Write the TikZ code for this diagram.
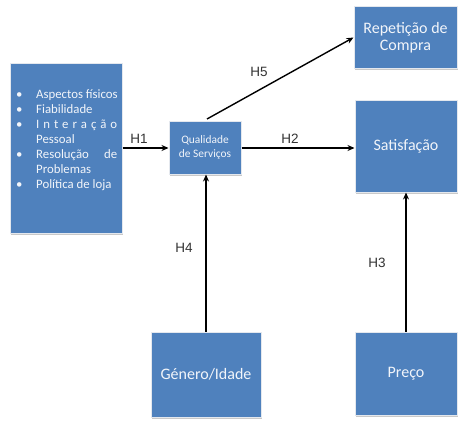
\documentclass[tikz,border=0pt]{standalone}
\usepackage{fontspec}
\setmainfont{Carlito}
\newfontfamily\labelfont{Liberation Sans}
\usetikzlibrary{arrows.meta,shadows}
\definecolor{boxblue}{HTML}{4F81BD}
\definecolor{boxedge}{HTML}{E4E8EE}
\definecolor{labelgray}{HTML}{333333}
\definecolor{boxtext}{HTML}{F2F5FA}
\begin{document}
\begin{tikzpicture}[x=1pt,y=-1pt,
  bluebox/.style={draw=boxedge, line width=1pt, fill=boxblue, text=boxtext,
    inner sep=0pt, align=center,
    drop shadow={shadow xshift=1.2pt, shadow yshift=-1.5pt, fill=black!35, opacity=0.6}},
  conn/.style={draw=black, line width=1.4pt, -{Stealth[length=7pt,width=6pt]}},
  hlabel/.style={font=\labelfont\fontsize{13.5}{15}\selectfont, text=labelgray, inner sep=0pt},
  item/.style={anchor=mid west, inner sep=0pt, text=boxtext, font=\fontsize{12.8}{14}\selectfont}
]
\useasboundingbox (0,0) rectangle (465,436);
\fill[white] (0,0) rectangle (465,436);

% boxes
\node[bluebox, minimum width=112pt, minimum height=170pt] (lb) at (66,148) {};
\node[bluebox, minimum width=72pt, minimum height=53pt, font=\fontsize{11.4}{14}\selectfont] (q) at (205,147.5) {Qualidade\\de Serviços};
\node[bluebox, minimum width=103pt, minimum height=61pt, font=\fontsize{16}{17}\selectfont] (rep) at (405.5,37.5) {Repetição de\\Compra};
\node[bluebox, minimum width=102pt, minimum height=92pt, font=\fontsize{16}{17}\selectfont] (sat) at (406,146) {Satisfação};
\node[bluebox, minimum width=110pt, minimum height=85pt, font=\fontsize{16}{17}\selectfont] (gen) at (206,374.5) {Género/Idade};
\node[bluebox, minimum width=102pt, minimum height=83pt, font=\fontsize{16}{17}\selectfont] (pre) at (406,373.5) {Preço};

% list in left box
\node[item] (b1) at (16,96) {•};
\node[item] (t1) at (36,96) {Aspectos físicos};
\node[item] (b2) at (16,111) {•};
\node[item] (t2) at (36,111) {Fiabilidade};
\node[item] (b3) at (16,126) {•};
\node[item] (t3) at (36,126) {\makebox[81pt][s]{I\hfill n\hfill t\hfill e\hfill r\hfill a\hfill ç\hfill ã\hfill o}};
\node[item] (t4) at (36,141) {Pessoal};
\node[item] (b5) at (16,156) {•};
\node[item] (t5) at (36,156) {\makebox[81pt][s]{Resolução\hfill de}};
\node[item] (t6) at (36,171) {Problemas};
\node[item] (b7) at (16,186) {•};
\node[item] (t7) at (36,186) {Política de loja};

% connectors
\draw[conn] (lb.east |- 0,148) -- (q.west |- 0,148);
\draw[conn] (q.east |- 0,148) -- (sat.west |- 0,148);
\draw[conn] (207,119) coordinate (h5s) -- (rep.west);
\draw[conn] (gen.north) -- (gen.north |- q.south);
\draw[conn] (pre.north) -- (sat.south);

% labels
\node[hlabel] (h1) at (139,139) {H1};
\node[hlabel] (h2) at (290,139) {H2};
\node[hlabel] (h5) at (259,72) {H5};
\node[hlabel] (h4) at (184,248) {H4};
\node[hlabel] (h3) at (377,263) {H3};
\end{tikzpicture}
\end{document}
